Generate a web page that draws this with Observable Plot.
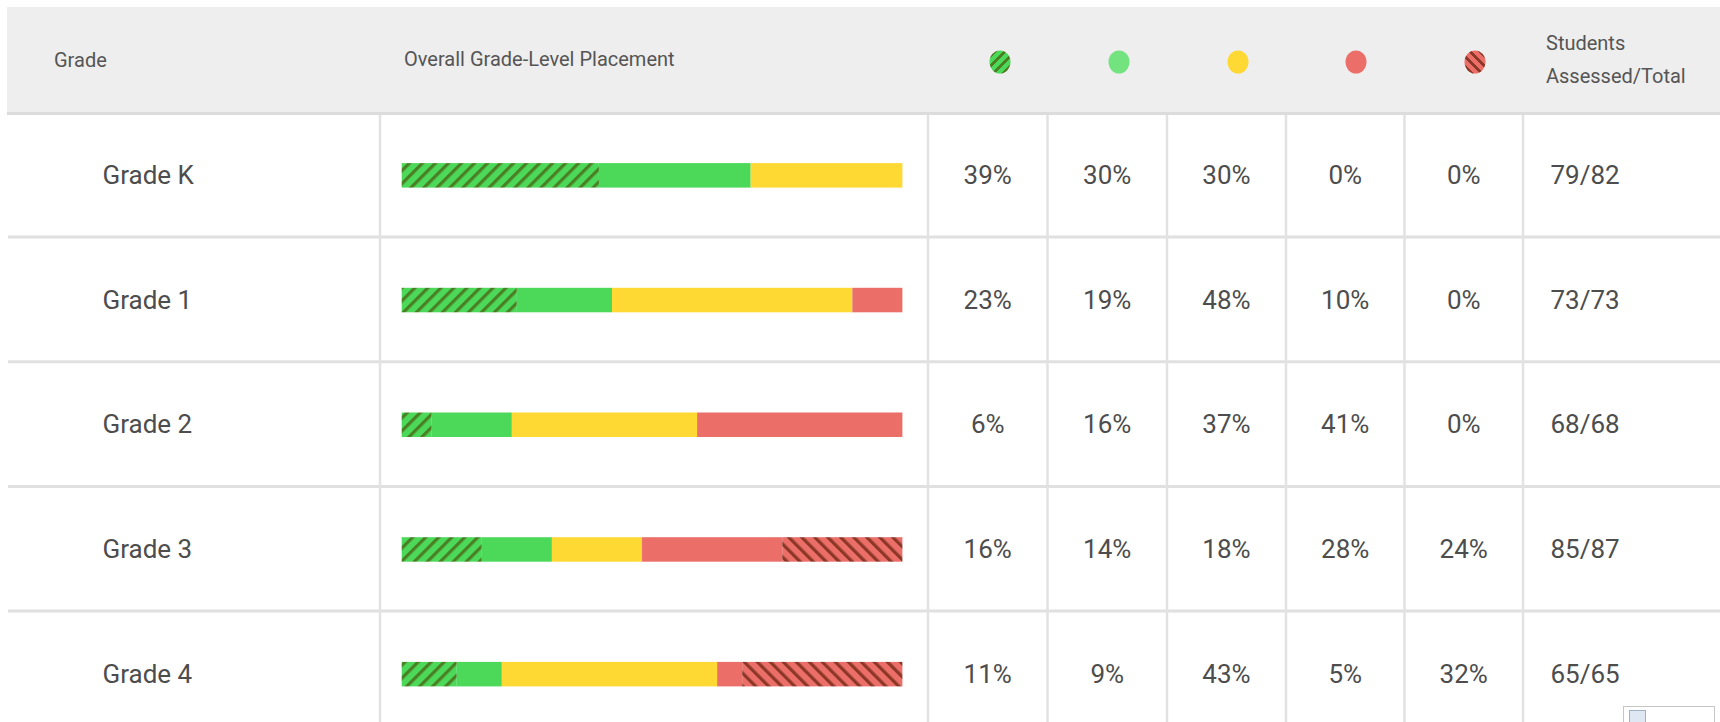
<!DOCTYPE html>
<html><head><meta charset="utf-8">
<script src="https://cdn.jsdelivr.net/npm/d3@7"></script>
<script src="https://cdn.jsdelivr.net/npm/@observablehq/plot@0.6"></script>
<style>
html,body{margin:0;padding:0;background:#fff;}
body{width:1720px;height:722px;overflow:hidden;font-family:Roboto,sans-serif;position:relative;}
#header{position:absolute;left:7px;top:7px;width:1713px;height:105px;background:#eeeeee;border-bottom:3px solid #dcdcdc;color:#555;font-size:20px;}
#header .lbl{position:absolute;transform:translateY(-50%);white-space:nowrap;line-height:1.2;}
#header .dot{position:absolute;width:21px;height:23px;border-radius:50%;transform:translate(-50%,-50%);}
#chart{position:absolute;left:0;top:115px;}
#broken{position:absolute;left:1623px;top:706px;width:92px;height:24px;border:1px solid #c6c6c6;box-sizing:border-box;background:#fff;}
#broken i{position:absolute;left:5px;top:3px;width:15px;height:17px;background:#dfe8f2;border:1px solid #9fb3c8;}
</style></head><body>
<div id="header"></div>
<div id="chart"></div>
<div id="broken"><i></i></div>
<script>
// ---- data ----
const grades = ["Grade K", "Grade 1", "Grade 2", "Grade 3", "Grade 4"];
const categories = ["Above grade level", "On grade level", "One grade below", "Two grades below", "Three+ grades below"];
const aboveGrade = [39, 23, 6, 16, 11];
const onGrade = [30, 19, 16, 14, 9];
const oneBelow = [30, 48, 37, 18, 43];
const twoBelow = [0, 10, 41, 28, 5];
const threeBelow = [0, 0, 0, 24, 32];
const assessed = [79, 73, 68, 85, 65];
const totals = [82, 73, 68, 87, 65];
const headerLabels = ["Grade", "Overall Grade-Level Placement", "Students", "Assessed/Total"];

// ---- styling ----
const barColors = ["url(#hatch-green)", "#4cd95a", "#ffd933", "#eb6f68", "url(#hatch-red)"];
const legendBackgrounds = [
  "repeating-linear-gradient(-45deg,#4cd95a 0 4px,#4a7f24 4px 7px)",
  "#72e37f", "#ffd933", "#eb6f68",
  "repeating-linear-gradient(45deg,#eb6f68 0 4px,#8c3728 4px 7px)"
];

const series = [aboveGrade, onGrade, oneBelow, twoBelow, threeBelow];
const table = [];
grades.forEach((g, i) => categories.forEach((c, j) => table.push({grade: g, category: c, value: series[j][i], col: j})));
const rows = grades.map((g, i) => ({grade: g, values: series.map(s => s[i]), assessed: assessed[i], total: totals[i]}));

// layout (pixels)
const colEdges = [379.5, 927.5, 1047, 1166.5, 1285.5, 1404, 1522.5];
const colCenters = colEdges.slice(1, 6).map((e, k) => (e + colEdges[k + 2]) / 2);
const bandH = 124.7;

const marks = [
  Plot.ruleY(grades.slice(1), {y: d => d, dy: -bandH / 2, insetLeft: 8, stroke: "#e0e0e0", strokeWidth: 3}),
  Plot.ruleX(colEdges, {x: d => (d - 401.7) / (902.4 - 401.7), stroke: "#e2e2e2", strokeWidth: 2.5}),
  Plot.barX(table, Plot.stackX({x: "value", y: "grade", fill: "category", offset: "normalize", insetTop: 51.3, insetBottom: 48.9})),
  Plot.text(grades, {y: d => d, text: d => d, frameAnchor: "left", dx: 102, dy: 1, textAnchor: "start", fontSize: 26, fill: "#4d4d4d"}),
  ...categories.map((c, j) => Plot.text(rows, {y: "grade", text: d => d.values[j] + "%", frameAnchor: "left", dx: colCenters[j], dy: 1, textAnchor: "middle", fontSize: 26, fill: "#4d4d4d"})),
  Plot.text(rows, {y: "grade", text: d => `${d.assessed}/${d.total}`, frameAnchor: "left", dx: 1550, dy: 1, textAnchor: "start", fontSize: 26, fill: "#4d4d4d"})
];

const chart = Plot.plot({
  width: 1720, height: 607, margin: 0,
  x: {domain: [0, 1], range: [401.7, 902.4], axis: null},
  y: {domain: grades, range: [-3.2, -3.2 + 5 * bandH], padding: 0, round: false, axis: null},
  color: {domain: categories, range: barColors},
  style: {fontFamily: "Roboto", background: "transparent", overflow: "visible"},
  marks
});

const defs = document.createElementNS("http://www.w3.org/2000/svg", "defs");
defs.innerHTML = `
<pattern id="hatch-green" patternUnits="userSpaceOnUse" width="9.2" height="9.2" patternTransform="rotate(45)">
  <rect width="9.2" height="9.2" fill="#4cd95a"></rect><rect width="3.2" height="9.2" fill="#4a7f24"></rect>
</pattern>
<pattern id="hatch-red" patternUnits="userSpaceOnUse" width="9.2" height="9.2" patternTransform="rotate(-45)">
  <rect width="9.2" height="9.2" fill="#eb6f68"></rect><rect width="3.2" height="9.2" fill="#8c3728"></rect>
</pattern>`;
chart.insertBefore(defs, chart.firstChild);
document.getElementById("chart").appendChild(chart);

// header (column titles + legend)
const header = document.getElementById("header");
function lbl(text, left, cy) {
  const s = document.createElement("div");
  s.className = "lbl"; s.textContent = text;
  s.style.left = left + "px"; s.style.top = cy + "px";
  header.appendChild(s);
}
lbl(headerLabels[0], 47, 53);
lbl(headerLabels[1], 397, 52);
lbl(headerLabels[2], 1539, 36);
lbl(headerLabels[3], 1539, 69);
const legendX = [1000, 1119, 1238, 1356, 1474.5];
categories.forEach((c, j) => {
  const d = document.createElement("div");
  d.className = "dot"; d.title = c;
  d.style.left = (legendX[j] - 7) + "px"; d.style.top = "55px";
  d.style.background = legendBackgrounds[j];
  header.appendChild(d);
});
</script>
</body></html>
